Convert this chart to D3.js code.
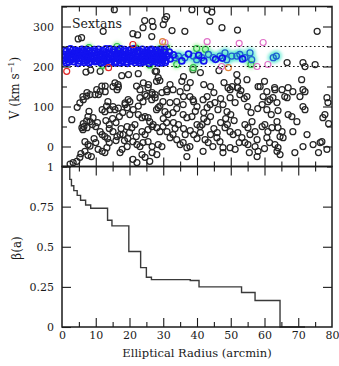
<!DOCTYPE html>
<html><head><meta charset="utf-8">
<script src="https://cdn.jsdelivr.net/npm/d3@7"></script>
<style>body{margin:0;background:#fff}svg{display:block}</style>
</head><body>
<svg id="c" width="339" height="366"></svg>
<script>
// ---------- data ----------
const xTicks = [0,10,20,30,40,50,60,70,80];
const xMinor = [5,15,25,35,45,55,65,75];
const vTicks = [0,100,200,300];
const vMinor = [-50,50,150,250,350];
const bTicks = [0,0.25,0.5,0.75,1];
const bTickLabels = ["0","0.25","0.5","0.75","1"];
const bandLines = [200,250];

// step function beta(a)
const stepR = [0,2.3,2.8,3.5,4.5,5.5,7.0,8.5,13.5,14.8,19.8,23.3,25.0,26.5,38.0,40.6,53.2,57.2,64.6,72];
const stepB = [1.0,0.92,0.88,0.85,0.82,0.79,0.76,0.74,0.665,0.63,0.47,0.37,0.31,0.295,0.29,0.25,0.215,0.165,0,0];

// non-members (black open circles) [radius arcmin, V km/s]
const nonMembers = [
[15.5,342],[12.2,288],[4.8,269],[5.8,272],[21,282],[22.4,279],[24.5,315],[24,297],[26.6,275],[26.7,313],
[30,305],[30.5,318],[31,325],[38.5,342],[43,342],[44.4,336],[43.8,313],[47.4,297],[52,291],[36.4,288],
[32.6,290],[75.6,288],[27,300],
[7.1,186],[8.5,191],[11.3,188],[15.7,159],[16.7,149],[17.7,177],[19.7,180],[22.6,182],[27.6,188],[28,163],
[6.3,117],[7.3,126],[8.3,130],[5.3,109],[10.3,142],[11.3,138],[13.2,101],[18.7,109],[19.6,117],[22.1,151],
[23.1,142],[24.1,159],[25.6,155],[25.1,126],[26.6,117],[27.6,130],[31,142],[15.7,92],[16.7,96],[21.1,92],
[22.6,101],[28,92],[29,101],[28.5,172],[29,165],[28,188],[36,175],[35.5,163],[38.8,192],[41,185],[46.5,190],
[51.8,180],[54.8,167],[60,163],[52,163],[66.7,210],[71.4,210],[75,205],[71,167],[71.4,142],[52,147],[52.7,130],
[49.8,142],[58.7,150],[60.7,137],[63,147],[67,147],[66,125],[62.5,122],[61.6,117],
[2.9,67],[6.2,125],[7.4,135],[9.8,130],[10.8,130],[12.8,137],[11.8,151],[12.8,151],[15.1,150],[16.3,142],
[16.6,155],[13.6,112],[14.2,92],[15.1,100],[11.9,92],[12.7,87],[7.7,75],[8.3,62],[9.2,72],[5.9,47],[6.2,42],
[7.4,47],[11.3,37],[11.9,30],[12.7,25],[15.1,37],[16.3,25],[17.2,30],[18.1,30],[19.3,50],[20.7,47],[21.6,55],
[20.1,80],[19.3,97],[18.7,105],[20.1,112],[22.6,80],[23.7,72],[24.6,75],[25.5,72],[23.1,122],[24,112],[24.6,130],
[25.5,147],[26.7,135],[21,12],[22.2,5],[23.1,0],[24,10],[25.5,12],[26.7,0],[23.7,-20],[24.6,-27],[26,-37],
[26.7,-15],[17.2,-15],[10.7,-7],[11.9,-12],[12.7,-15],[13.3,-3],[8.7,-25],[7.7,-22],[5.3,-27],[4.4,-37],[3.3,-40],
[17.8,-7],[19.3,0],[21,-32],[22.2,-40],[23.7,37],[24.6,30],[25.5,42],[26.7,50],[7.7,5],[6.8,12],[8.3,1],[6.8,-12],
[2.4,-44],[5.6,-18],
[9,55],[10,50],[10.5,60],[13,65],[14,55],[15,70],[16,60],[17,75],[17.5,45],[18,85],[14,45],[16,15],[14,10],
[18.5,15],[19.5,20],[9.5,20],[10,10],[13.5,20],[20,35],[22,25],[8,88],[4.5,98],[6.3,57],[7.3,64],[6.5,50],
[26.7,130],[27.6,122],[29.6,135],[31.1,137],[32.9,142],[35,137],[37,147],[37.9,125],[38.8,117],[29.9,112],
[32,110],[34,112],[35.9,105],[28.5,97],[30.5,87],[31.4,80],[32.9,85],[41.8,117],[43,97],[43.9,105],[45.3,110],
[46.2,92],[47.7,105],[48.9,87],[49.2,147],[50.4,150],[52.1,147],[49.8,122],[51.3,110],[35.9,80],[37,72],
[38.5,75],[40,55],[40.9,50],[41.5,55],[26,62],[27,55],[28.1,47],[29,37],[29.9,50],[31.1,37],[32,22],[32.9,30],
[34,17],[35,5],[35.9,10],[37,-3],[37.9,0],[42.4,17],[43.3,10],[44.7,0],[45.9,22],[46.8,12],[47.7,-3],[48.3,47],
[49.8,37],[50.7,30],[52.1,35],[53.3,22],[54.2,10],[49.8,-3],[51.3,-7],[52.5,10],[37,-25],[41.8,-12],[47.7,-15],
[28.1,-20],[28.5,5],[29.6,0],[53,140],[54,120],
[33,60],[34.5,55],[36,45],[38,40],[39,30],[42,70],[43,62],[44,75],[45,45],[46,35],[44,30],[40,20],[41,35],
[36.5,30],[33.5,45],[47,60],[48.5,70],[50,80],[51,65],[49,55],[39.5,88],[42,85],[34,95],[40,100],[45,135],
[43,125],[47,120],[36,125],[39,112],[31,60],[30,70],[38,160],[42,155],[32,155],[44,150],[48,160],
[54.8,125],[58.1,150],[59.6,125],[61,112],[60.7,92],[59.3,105],[63.1,142],[65.2,142],[68.4,137],[70.5,125],
[72,137],[63.7,110],[66.7,122],[71.4,100],[72,92],[67,80],[68.1,75],[69.6,62],[78.5,122],[77.9,80],[77.3,72],
[79,57],[54.2,55],[55.1,47],[56.3,62],[57.2,37],[55.7,30],[57.8,17],[55.1,5],[59.3,50],[60.1,55],[61,37],
[62.2,47],[60.7,22],[63.7,62],[64,47],[65.2,37],[64.6,25],[65.5,22],[63.1,5],[64,-3],[63.7,-12],[64.6,-20],
[57.2,0],[58.1,-12],[57.8,-25],[68.4,37],[69,-15],[71.4,0],[72.6,30],[74.4,5],[77,12],[78.5,-7],[78.8,110],
[76,-15],[76.5,10],[56,85],[58,95],[62,80],[55,100],[64,90],[55.5,-15],[60,-5],[61.5,10],[72,200]
];

// members by probability colour
const blueMembers = [
[0.3,222],[0.5,231],[0.8,215],[1.0,226],[1.2,238],[1.5,219],[1.7,229],[2.0,211],[2.2,235],[2.4,224],[2.7,217],
[2.9,230],[3.2,241],[3.4,221],[3.6,212],[3.9,233],[4.1,226],[4.4,218],[4.6,237],[4.9,228],[5.1,214],[5.4,222],
[5.6,233],[5.9,243],[6.1,219],[6.4,227],[6.6,210],[6.9,236],[7.1,224],[7.4,216],[7.6,231],[7.9,221],[8.1,239],
[8.4,213],[8.6,227],[8.9,234],[9.1,218],[9.4,225],[9.6,242],[9.9,212],[10.1,229],[10.4,221],[10.6,236],[10.9,216],
[11.1,226],[11.4,232],[11.6,209],[11.9,223],[12.1,240],[12.4,219],[12.6,229],[12.9,214],[13.1,235],[13.4,224],
[13.6,217],[13.9,231],[14.1,244],[14.4,221],[14.6,211],[14.9,228],[15.1,219],[15.4,236],[15.6,225],[15.9,213],
[16.1,232],[16.4,222],[16.6,240],[16.9,217],[17.1,227],[17.4,209],[17.6,234],[17.9,223],[18.1,215],[18.4,230],
[18.6,221],[18.9,238],[19.1,212],[19.4,226],[19.6,218],[19.9,233],[20.1,224],[20.4,242],[20.6,214],[20.9,229],
[21.1,220],[21.4,236],[21.6,210],[21.9,226],[22.1,217],[22.4,232],[22.6,223],[22.9,214],[23.1,238],[23.4,227],
[23.6,219],[23.9,231],[24.1,211],[24.4,225],[24.6,236],[24.9,218],[25.1,228],[25.4,215],[25.6,233],[25.9,222],
[26.1,240],[26.4,213],[26.6,228],[26.9,219],[27.1,234],[27.4,224],[27.6,212],[27.9,230],[28.1,221],[28.4,237],
[28.6,216],[28.9,226],[29.1,232],[29.4,219],[29.6,209],[29.9,228],[30.1,222],[30.5,236],[30.8,215],[31.2,227],
[32,219],[33,229],[35.5,214],[37.5,231],[40.5,228],[42,214],[45.5,218],[47.5,221],[53.5,219],[31.8,236],
[0.6,240],[1.3,209],[2.5,244],[3.0,220],[4.0,241],[4.8,208],[5.2,236],[6.2,239],[6.8,214],[7.3,242],[8.0,209],
[8.8,222],[9.7,237],[10.3,214],[10.8,243],[11.6,228],[12.3,211],[13.0,244],[13.8,208],[14.3,233],[15.3,242],
[15.8,209],[16.5,228],[17.3,244],[17.8,213],[18.5,242],[19.3,208],[19.8,240],[20.5,222],[21.2,244],[21.8,215],
[22.5,240],[23.2,209],[23.8,243],[24.5,216],[25.2,241],[25.8,208],[26.5,243],[27.2,216],[27.8,241],[28.5,209],
[29.2,242],[29.8,216],[30.3,243],[30.6,210]
];
const cyanMembers = [
[33.5,222],[34.5,226],[36.4,222],[38.9,226],[39.9,217],[41.4,222],[43.4,230],[44.8,222],[46.8,226],[48.3,234],
[48.8,217],[50.3,226],[51.8,226],[52.7,230],[54.2,222],[55.7,234],[56.2,217],[62.6,222],[63.5,226]
];
const greenMembers = [
[31,247],[16.3,250],[38.9,197],[42.5,243],[56,205],[29,244],[39.9,245],[12,203],[22,246],[26,204],[8,247],[34,205]
];
const redMembers = [[1.4,188],[13.8,197],[21,255]];
const pinkMembers = [[30.5,260],[43,262],[59.6,260],[57.8,200],[61,205],[47.3,200],[52.5,258]];
const orangeMembers = [[49.3,197],[29.8,262]];

// ---------- drawing ----------
const svg = d3.select('#c');
const x = d3.scaleLinear().domain([0,80]).range([62,332]);
const yT = d3.scaleLinear().domain([-50,350]).range([166.5,6.5]);
const yB = d3.scaleLinear().domain([0,1]).range([327,166.5]);
const FONT = "DejaVu Serif";
const INK = "#1a1a1a";

const defs = svg.append('defs');
defs.append('filter').attr('id','blur').attr('x','-1').attr('y','-1').attr('width','3').attr('height','3')
  .append('feGaussianBlur').attr('stdDeviation',1.6);
defs.append('clipPath').attr('id','clipT').append('rect')
  .attr('x',62).attr('y',6.5).attr('width',270).attr('height',160);

const gT = svg.append('g').attr('clip-path','url(#clipT)');

// non-members
gT.append('g').selectAll('circle').data(nonMembers).join('circle')
  .attr('cx',d=>x(d[0])).attr('cy',d=>yT(d[1])).attr('r',3)
  .attr('fill','none').attr('stroke','#262626').attr('stroke-width',1.25);

// halos
const halo = gT.append('g').attr('filter','url(#blur)');
halo.selectAll('.hc').data(cyanMembers).join('circle').attr('class','hc')
  .attr('cx',d=>x(d[0])).attr('cy',d=>yT(d[1])).attr('r',6)
  .attr('fill','#3fe6c8').attr('opacity',0.55);
halo.selectAll('.hg').data(greenMembers).join('circle').attr('class','hg')
  .attr('cx',d=>x(d[0])).attr('cy',d=>yT(d[1])).attr('r',5)
  .attr('fill','#7df07a').attr('opacity',0.5);

function pts(data, color, sw){
  gT.append('g').selectAll('circle').data(data).join('circle')
    .attr('cx',d=>x(d[0])).attr('cy',d=>yT(d[1])).attr('r',3)
    .attr('fill','none').attr('stroke',color).attr('stroke-width',sw);
}
pts(greenMembers,'#2fbf4a',1.2);
pts(cyanMembers,'#1f5fd0',1.3);
pts(blueMembers,'#1212f0',1.7);
pts(redMembers,'#e02828',1.2);
pts(pinkMembers,'#e070c8',1.2);
pts(orangeMembers,'#e0803a',1.2);

// dotted lines
svg.append('g').selectAll('line').data(bandLines).join('line')
  .attr('x1',x(0)).attr('x2',x(80)).attr('y1',d=>yT(d)).attr('y2',d=>yT(d))
  .attr('stroke','#111').attr('stroke-width',1.1).attr('stroke-dasharray','1.6,2.6');

// step line
const line = d3.line().x((d,i)=>x(stepR[i])).y((d,i)=>yB(stepB[i])).curve(d3.curveStepAfter);
svg.append('path').datum(stepR).attr('d',line).attr('fill','none')
  .attr('stroke','#3a3a3a').attr('stroke-width',1.4);

// frames
[[6.5,166.5],[166.5,327]].forEach(([t,b])=>{
  svg.append('rect').attr('x',62).attr('y',t).attr('width',270).attr('height',b-t)
    .attr('fill','none').attr('stroke',INK).attr('stroke-width',1.5);
});

function styleAxis(g){
  g.select('.domain').remove();
  g.selectAll('line').attr('stroke',INK).attr('stroke-width',1.1);
  g.selectAll('text').attr('font-family',FONT).attr('font-size',11).attr('fill',INK);
}
function ax(gen, tx, ty){ svg.append('g').attr('transform',`translate(${tx},${ty})`).call(gen).call(styleAxis); }

// x ticks on all horizontal edges
[[6.5,'top'],[166.5,'bottomUp'],[166.5,'topDown'],[327,'bottom']].forEach(([yy,k])=>{
  const mk = (k==='top'||k==='topDown') ? d3.axisTop : d3.axisBottom;
  ax(mk(x).tickValues(xTicks.slice(1,-1)).tickSize(-9).tickFormat(''),0,yy);
  ax(mk(x).tickValues(xMinor).tickSize(-5).tickFormat(''),0,yy);
});
ax(d3.axisBottom(x).tickValues(xTicks).tickSize(0).tickPadding(4).tickFormat(d3.format('d')),0,327);

// top panel y ticks
ax(d3.axisLeft(yT).tickValues(vTicks).tickSize(-9).tickPadding(8).tickFormat(d3.format('d')),62,0);
ax(d3.axisLeft(yT).tickValues(vMinor).tickSize(-5).tickFormat(''),62,0);
ax(d3.axisRight(yT).tickValues(vTicks).tickSize(-9).tickFormat(''),332,0);
ax(d3.axisRight(yT).tickValues(vMinor).tickSize(-5).tickFormat(''),332,0);

// bottom panel y ticks
ax(d3.axisLeft(yB).tickValues(bTicks).tickSize(-9).tickPadding(8).tickFormat((d,i)=>bTickLabels[i]),62,0);
ax(d3.axisRight(yB).tickValues(bTicks.slice(1,-1)).tickSize(-9).tickFormat(''),332,0);

// titles
svg.append('text').attr('x',197).attr('y',357).attr('text-anchor','middle')
  .attr('font-family',FONT).attr('font-size',11.5).attr('fill',INK).text('Elliptical Radius (arcmin)');
const vt = svg.append('text').attr('transform','translate(19,88) rotate(-90)').attr('text-anchor','middle')
  .attr('font-family',FONT).attr('font-size',12).attr('fill',INK);
vt.append('tspan').text('V (km s');
vt.append('tspan').attr('font-size',8).attr('dy',-5).text('−1');
vt.append('tspan').attr('dy',5).text(')');
svg.append('text').attr('transform','translate(21,248) rotate(-90)').attr('text-anchor','middle')
  .attr('font-family',FONT).attr('font-size',12).attr('fill',INK).text('β(a)');
svg.append('text').attr('x',72).attr('y',28).attr('font-family',FONT).attr('font-size',12.5)
  .attr('fill',INK).text('Sextans');
</script>
</body></html>
